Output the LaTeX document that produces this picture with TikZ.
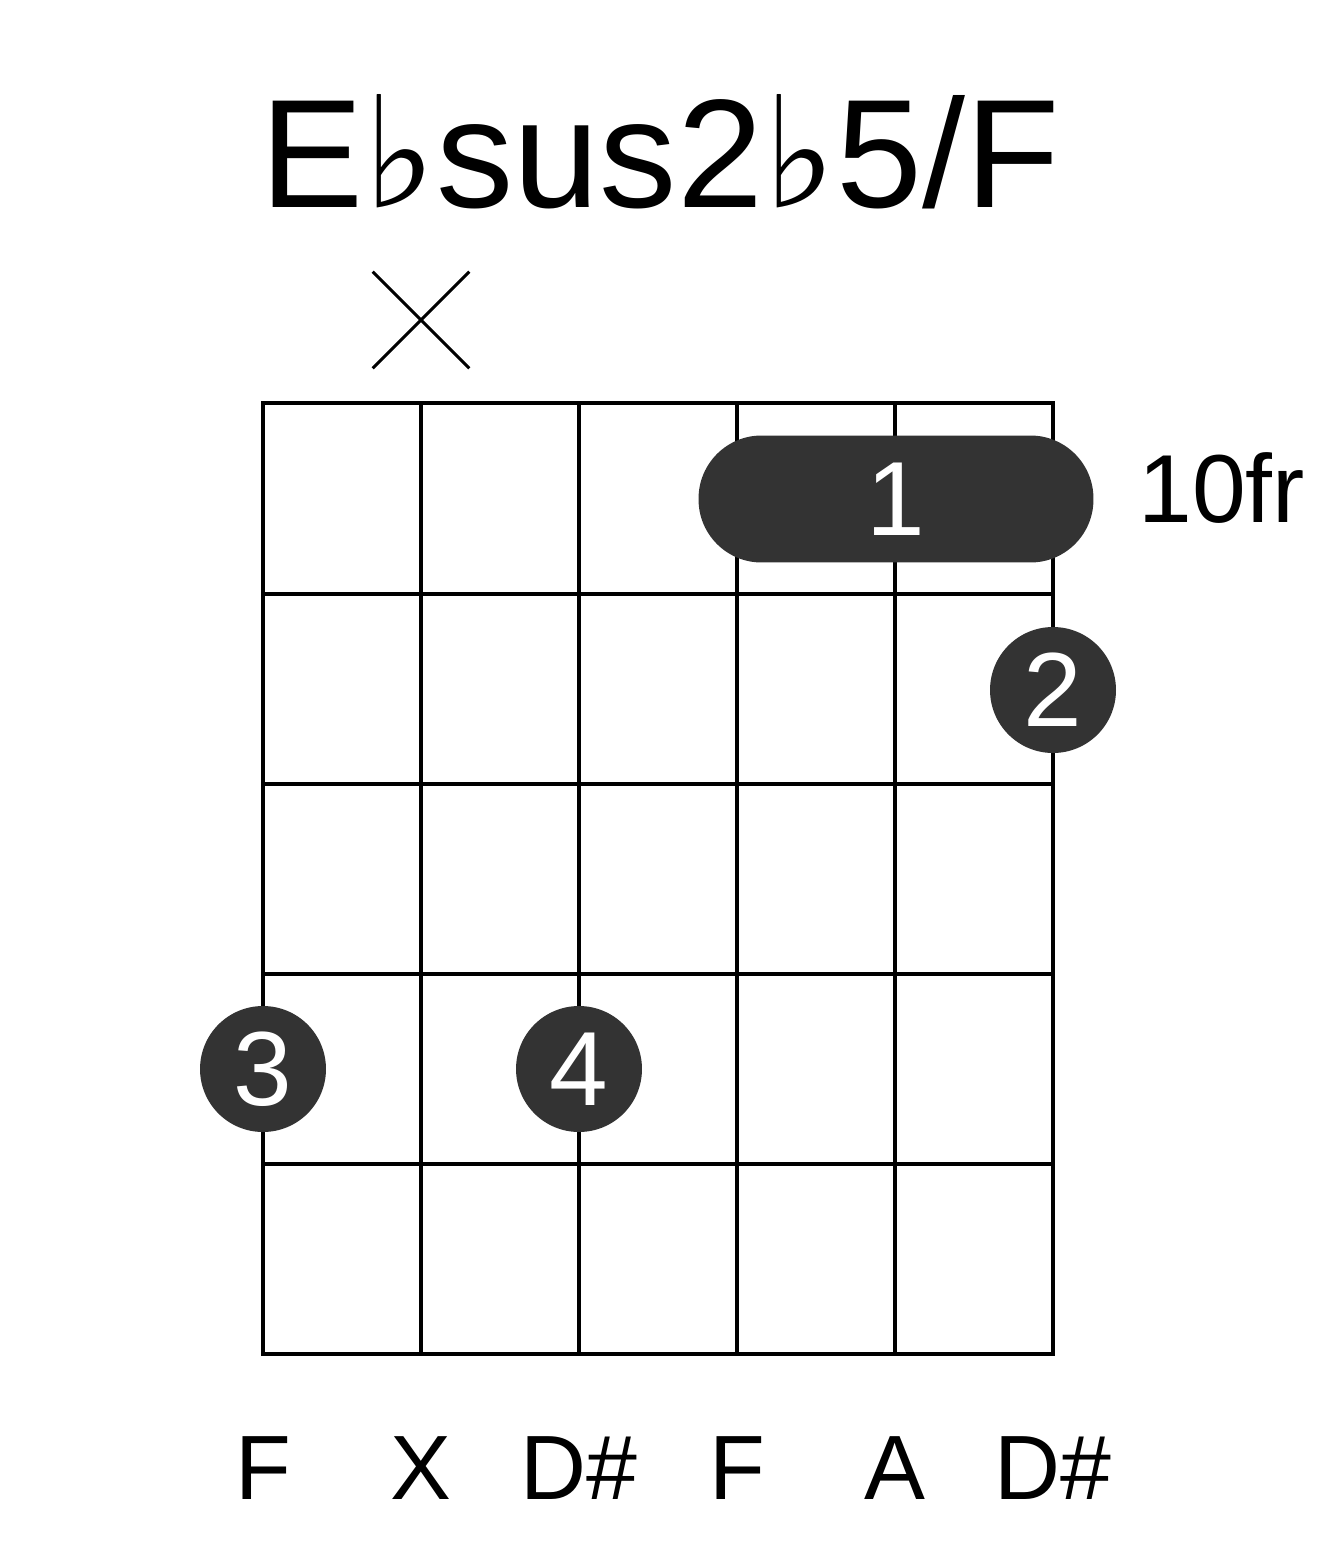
\documentclass[tikz,border=0pt]{standalone}
\usepackage{fontspec}
\setmainfont{Liberation Sans}
\newfontfamily\flatfont{DejaVu Sans}
\usetikzlibrary{positioning}
\definecolor{dotgray}{RGB}{51,51,51}

\begin{document}
\begin{tikzpicture}[
    x=0.02cm, y=-0.02cm,
    gridline/.style={line width=2.3pt, line cap=rect},
    fingerdot/.style={circle, fill=dotgray, minimum size=2.52cm, inner sep=0pt,
                      text=white, font=\fontsize{60}{60}\selectfont},
    barrebox/.style={rectangle, rounded corners=1.26cm, fill=dotgray, minimum width=7.9cm,
                     minimum height=2.54cm, inner sep=0pt, text=white, font=\fontsize{60}{60}\selectfont},
    notelabel/.style={anchor=base, inner sep=0pt, font=\fontsize{52}{52}\selectfont},
    mutebox/.style={minimum size=1.92cm, inner sep=0pt}
]
\useasboundingbox (0,0) rectangle (1317,1551);

% Title
\node[anchor=base, inner sep=0pt, font=\fontsize{88}{88}\selectfont] (title) at (660,208)
  {E{\flatfont ♭}sus2{\flatfont ♭}5/F};

% Muted string
\node[mutebox] (mute) at (421,320) {};
\draw[line width=1.7pt] (mute.north west) -- (mute.south east);
\draw[line width=1.7pt] (mute.north east) -- (mute.south west);

% Grid
\foreach \s in {263,421,579,737,895,1053}
  \draw[gridline] (\s,403) -- (\s,1354);
\foreach \f in {403,594,784,974,1164,1354}
  \draw[gridline] (263,\f) -- (1053,\f);

% Fret position
\node[anchor=base west, inner sep=0pt, font=\fontsize{55}{55}\selectfont] (fretno) at (1138,522) {10fr};

% Fingers
\node[barrebox] (barre) at (896,499) {1};
\node[fingerdot] (dottwo) at (1053,690) {2};
\node[fingerdot] (dotthree) at (263,1069) {3};
\node[fingerdot] (dotfour) at (579,1069) {4};

% Notes
\node[notelabel] (noteone) at (263,1499) {F};
\node[notelabel] (notetwo) at (421,1499) {X};
\node[notelabel] (notethree) at (579,1499) {D\#};
\node[notelabel] (notefour) at (737,1499) {F};
\node[notelabel] (notefive) at (895,1499) {A};
\node[notelabel] (notesix) at (1053,1499) {D\#};
\end{tikzpicture}
\end{document}
